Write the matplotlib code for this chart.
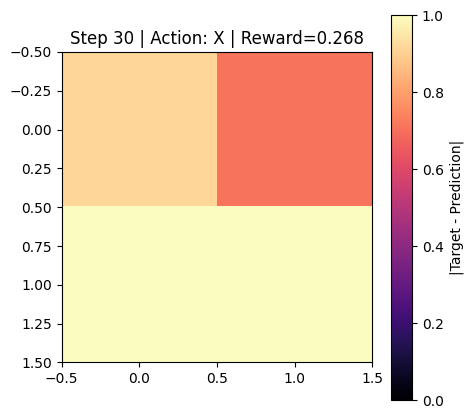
import numpy as np
import matplotlib
matplotlib.use('Agg')
import matplotlib.pyplot as plt

# error grid |target - prediction|
errors = [[0.915, 0.71],
          [0.997, 0.997]]
step = 30
action = 'X'
reward = 0.268

fig = plt.figure(figsize=(4.72, 4.18), dpi=100)
ax = fig.add_axes([0.1303, 0.1328, 0.659, 0.7428])
cax = fig.add_axes([0.8284, 0.0419, 0.0445, 0.9222])

im = ax.imshow(np.array(errors), cmap='magma', vmin=0, vmax=1)
ax.set_title(f'Step {step} | Action: {action} | Reward={reward:.3f}')

cb = fig.colorbar(im, cax=cax)
cb.set_label('|Target - Prediction|')

fig.savefig('out.png', dpi=100)
